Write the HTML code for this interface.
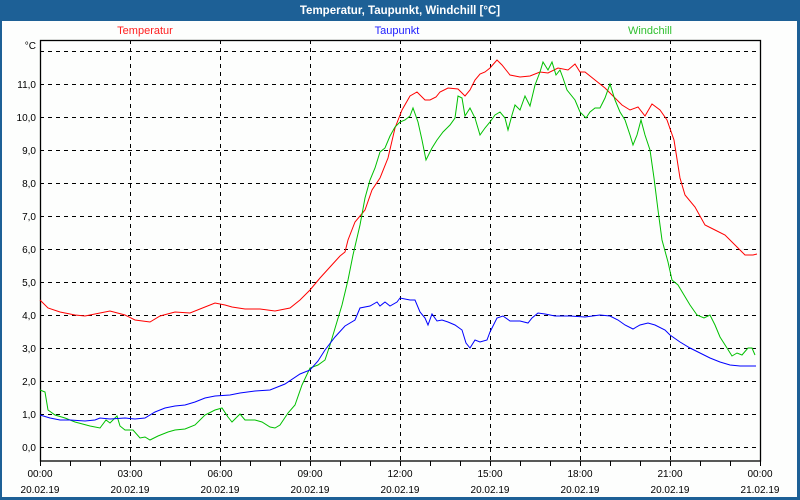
<!DOCTYPE html>
<html><head><meta charset="utf-8"><style>
html,body{margin:0;padding:0;background:#fff}
svg{display:block;font-family:"Liberation Sans",sans-serif}
</style></head><body>
<svg width="800" height="500" viewBox="0 0 800 500" xmlns="http://www.w3.org/2000/svg">
<rect x="0" y="0" width="800" height="500" fill="#1d6096"/>
<rect x="2" y="21" width="795" height="476" fill="#fdfefd"/>
<text x="400" y="14" text-anchor="middle" font-size="11.5" font-weight="bold" fill="#fff">Temperatur, Taupunkt, Windchill [°C]</text>
<text x="145" y="34" text-anchor="middle" font-size="11" fill="#ff2020">Temperatur</text>
<text x="397" y="34" text-anchor="middle" font-size="11" fill="#2020ff">Taupunkt</text>
<text x="650" y="34" text-anchor="middle" font-size="11" fill="#30c030">Windchill</text>
<g stroke="#000" stroke-width="1" stroke-dasharray="4,4" fill="none">
<path d="M40 51.5H760M40 84.5H760M40 117.5H760M40 150.5H760M40 183.5H760M40 216.5H760M40 249.5H760M40 282.5H760M40 315.5H760M40 348.5H760M40 381.5H760M40 414.5H760M40 447.5H760"/>
<path d="M130.5 40V461M220.5 40V461M310.5 40V461M400.5 40V461M490.5 40V461M580.5 40V461M670.5 40V461"/>
</g>
<rect x="40.5" y="40.5" width="720" height="420.5" fill="none" stroke="#000" stroke-width="1.3"/>
<g stroke="#000" stroke-width="1">
<path d="M40.5 461V466M70.5 461V466M100.5 461V466M130.5 461V466M160.5 461V466M190.5 461V466M220.5 461V466M250.5 461V466M280.5 461V466M310.5 461V466M340.5 461V466M370.5 461V466M400.5 461V466M430.5 461V466M460.5 461V466M490.5 461V466M520.5 461V466M550.5 461V466M580.5 461V466M610.5 461V466M640.5 461V466M670.5 461V466M700.5 461V466M730.5 461V466M760.5 461V466"/>
</g>
<g font-size="10" fill="#000" text-anchor="end">
<text x="36" y="49">°C</text>
<text x="36" y="88">11,0</text><text x="36" y="121">10,0</text><text x="36" y="154">9,0</text><text x="36" y="187">8,0</text><text x="36" y="220">7,0</text><text x="36" y="253">6,0</text><text x="36" y="286">5,0</text><text x="36" y="319">4,0</text><text x="36" y="352">3,0</text><text x="36" y="385">2,0</text><text x="36" y="418">1,0</text><text x="36" y="451">0,0</text>
</g>
<g font-size="10" fill="#000" text-anchor="middle">
<text x="40" y="477">00:00</text><text x="40" y="493">20.02.19</text>
<text x="130" y="477">03:00</text><text x="130" y="493">20.02.19</text>
<text x="220" y="477">06:00</text><text x="220" y="493">20.02.19</text>
<text x="310" y="477">09:00</text><text x="310" y="493">20.02.19</text>
<text x="400" y="477">12:00</text><text x="400" y="493">20.02.19</text>
<text x="490" y="477">15:00</text><text x="490" y="493">20.02.19</text>
<text x="580" y="477">18:00</text><text x="580" y="493">20.02.19</text>
<text x="670" y="477">21:00</text><text x="670" y="493">20.02.19</text>
<text x="760" y="477">00:00</text><text x="760" y="493">21.02.19</text>
</g>
<polyline fill="none" stroke="#ff0000" stroke-width="1" points="40,300 48,308 60,312 75,315 85,316 100,313 110,311 125,315 135,320 150,322 160,316 175,312 190,313 205,307 215,303 225,305 232,307 245,309 260,309 275,311 290,308 300,300 310,290 320,278 330,267 340,256 345,252 348,240 355,222 365,210 372,190 380,178 388,158 395,128 402,110 410,96 417,92 425,100 430,100 436,97 440,92 448,88 458,89 465,96 470,90 475,80 480,74 485,72 490,68 497,60 502,65 510,75 520,77 530,76 540,72 548,73 558,68 568,70 575,64 580,72 585,72 595,80 605,88 612,95 622,105 630,110 638,107 645,116 652,104 660,110 667,120 674,140 680,178 685,195 695,207 705,225 715,230 725,235 735,245 745,255 753,255 757,254"/>
<polyline fill="none" stroke="#00c000" stroke-width="1" points="40,390 45,392 48,410 55,415 65,418 75,422 90,426 100,428 106,420 110,423 117,416 120,426 125,430 133,430 140,438 145,437 150,440 158,436 168,432 175,430 185,429 195,425 205,415 215,410 222,408 228,417 232,422 240,414 245,420 255,420 262,422 270,427 275,428 280,425 288,413 295,405 302,385 310,368 318,365 325,360 330,345 336,325 342,305 348,280 353,255 360,225 365,198 370,180 375,168 380,152 385,148 390,136 395,127 400,122 405,120 410,116 413,108 418,122 422,140 426,160 432,148 437,140 443,132 450,125 455,118 458,96 462,98 465,116 470,108 475,118 480,135 485,128 490,122 495,115 500,112 505,118 508,130 512,115 515,105 520,110 525,96 530,106 535,85 540,72 543,62 548,70 552,62 556,75 560,70 563,78 567,90 575,100 580,112 586,118 590,112 595,108 600,108 605,98 610,84 615,100 620,112 625,120 630,135 633,145 637,135 641,120 645,135 650,150 654,178 658,210 662,240 668,262 672,280 678,285 684,295 690,305 697,315 704,318 710,315 715,325 720,337 727,348 732,356 737,353 742,355 748,348 752,348 755,355"/>
<polyline fill="none" stroke="#0000ff" stroke-width="1" points="40,415 50,418 60,420 70,420 85,421 95,420 100,418 110,419 125,418 135,419 145,418 155,412 165,408 175,406 185,405 195,402 205,398 215,396 230,395 240,393 255,391 270,390 285,384 300,374 310,370 318,361 325,350 335,337 345,326 355,320 360,308 370,306 377,302 380,306 385,302 390,306 397,302 400,298 410,300 415,300 420,312 425,318 428,325 432,314 437,321 442,320 448,322 455,325 462,330 466,343 470,348 475,340 480,342 487,340 490,332 497,318 503,316 510,321 520,321 528,323 532,318 538,313 545,314 555,316 570,316 585,317 600,315 610,316 618,320 625,325 633,329 640,325 648,323 655,325 665,330 670,335 680,342 690,348 700,353 710,358 720,362 730,365 740,366 752,366 756,366"/>
</svg>
</body></html>
